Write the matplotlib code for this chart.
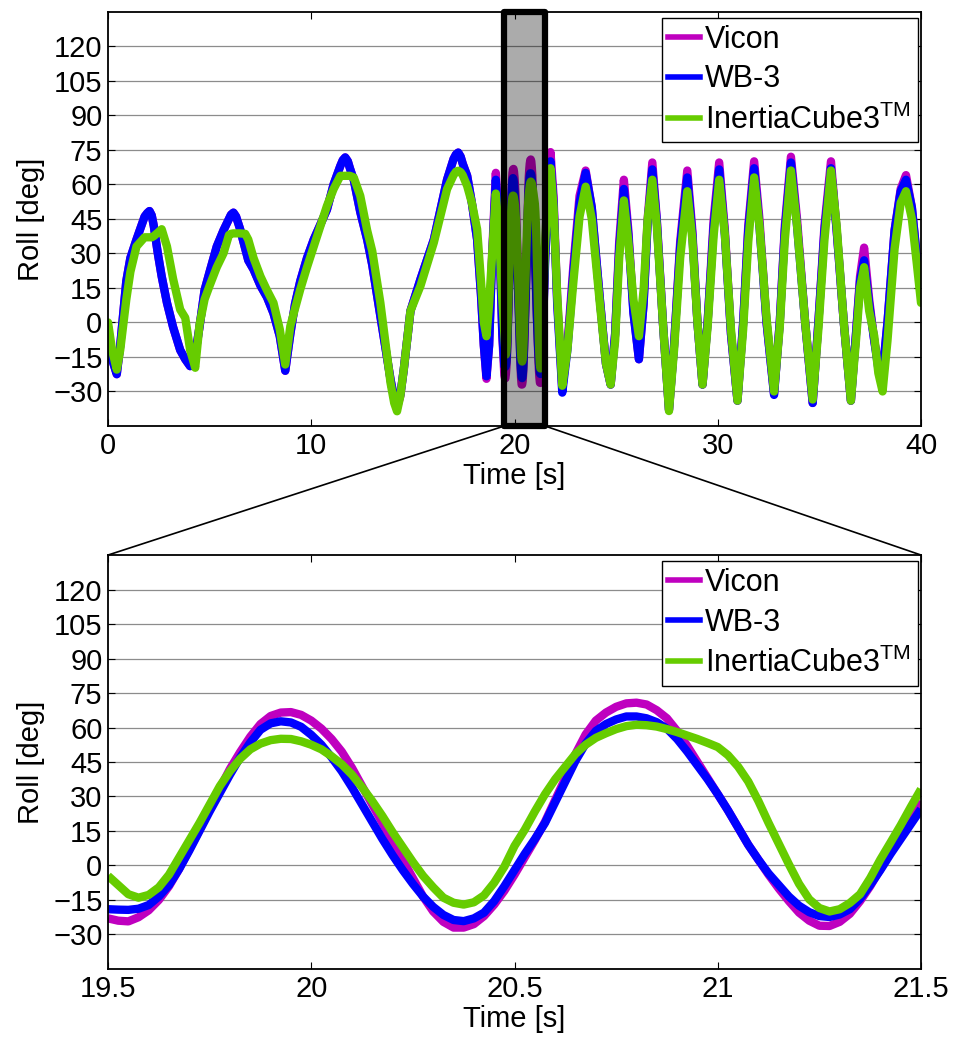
import matplotlib as mpl
mpl.use('Agg')
import matplotlib.pyplot as plt
from matplotlib.patches import Rectangle, ConnectionPatch
from matplotlib.lines import Line2D
import numpy as np

mpl.rcParams['font.family'] = ['Liberation Sans', 'DejaVu Sans']
mpl.rcParams['mathtext.fontset'] = 'custom'
mpl.rcParams['mathtext.rm'] = 'Liberation Sans'
mpl.rcParams['mathtext.it'] = 'Liberation Sans'

# -------------------------
# Data
# -------------------------

# zoomed window 19.5 - 21.5 s (samples every 25 ms)
t_zoom = [19.5, 19.525, 19.55, 19.575, 19.6, 19.625, 19.65, 19.675, 19.7, 19.725,
          19.75, 19.775, 19.8, 19.825, 19.85, 19.875, 19.9, 19.925, 19.95, 19.975,
          20.0, 20.025, 20.05, 20.075, 20.1, 20.125, 20.15, 20.175, 20.2, 20.225,
          20.25, 20.275, 20.3, 20.325, 20.35, 20.375, 20.4, 20.425, 20.45, 20.475,
          20.5, 20.525, 20.55, 20.575, 20.6, 20.625, 20.65, 20.675, 20.7, 20.725,
          20.75, 20.775, 20.8, 20.825, 20.85, 20.875, 20.9, 20.925, 20.95, 20.975,
          21.0, 21.025, 21.05, 21.075, 21.1, 21.125, 21.15, 21.175, 21.2, 21.225,
          21.25, 21.275, 21.3, 21.325, 21.35, 21.375, 21.4, 21.425, 21.45, 21.475,
          21.5]
vicon_zoom = [-23, -24, -24.3, -22.5, -19.5, -15, -9, -1.5, 7, 15.5,
              25, 33.5, 42, 49.3, 56, 61.5, 65, 66.5, 66.7, 65.5,
              63, 59.5, 55, 49.5, 42.5, 34.5, 26.5, 18.5, 10.5, 2.5,
              -5.5, -13.5, -20, -24.5, -27, -27, -25.5, -22, -17, -11,
              -4, 3.5, 11, 19, 28.5, 38, 48.5, 57, 63, 66.5,
              69, 70.5, 70.8, 70, 67.5, 64, 58.5, 52, 45, 38,
              31, 24, 16.5, 9, 2.5, -4, -10, -15.5, -20.5, -24,
              -26.2, -26.3, -24.5, -21, -15.5, -9, -1.5, 6, 13, 20.5,
              28]
wb3_zoom = [-19, -19.2, -19.3, -18.8, -17.2, -13.5, -8.5, -1.5, 6.5, 15,
            23.5, 31.5, 39.5, 47, 53.5, 59, 61.8, 62.7, 62.2, 60.3,
            56.8, 52.5, 47, 41, 34, 26.5, 19, 11.5, 4.5, -2,
            -8, -13.5, -18, -21.5, -23.7, -24.2, -23, -20.5, -15.5, -9,
            -2, 5, 11.5, 18.5, 27.5, 36.5, 45.5, 53, 58.5, 61.5,
            63.5, 64.8, 64.8, 64, 62.3, 59.5, 55, 49.5, 43.5, 37.5,
            31, 24, 16.5, 9, 2.5, -3.5, -8.5, -13.5, -17.5, -20.3,
            -22, -22.4, -21.3, -19, -14.5, -8.5, -2, 5, 11.5, 18,
            24.5]
ic3_zoom = [-4.5, -8.5, -12.5, -14, -12.8, -9.5, -4, 3.5, 11, 18.5,
            26.5, 34.5, 41, 46.4, 50.5, 53, 54.5, 55.1, 55, 54,
            52.5, 50.5, 47.5, 44, 39.5, 34, 28, 21.5, 14.5, 8,
            1.5, -4.5, -9.5, -14, -16.2, -17, -16, -13, -7.5, -0.5,
            8.5, 15.5, 23.5, 31, 37.5, 43, 48.5, 52.5, 55.5, 57.5,
            59.3, 60.6, 61.2, 61, 60.4, 59.3, 58, 56.5, 55, 53.3,
            51.5, 48, 43, 36.5, 28, 18.5, 9.5, 0.5, -8, -14.7,
            -18.5, -20, -19, -16.3, -12.5, -5.5, 2.6, 10, 17.5, 25.5,
            33.2]

# full record, before the zoom window (0 - 19.5 s)
t_a = [0.0, 0.2, 0.43, 0.6, 0.9, 1.1, 1.4, 1.8, 1.93, 2.04,
       2.15, 2.25, 2.45, 2.64, 2.9, 3.2, 3.55, 3.8, 4.04, 4.29,
       4.5, 4.75, 5.0, 5.35, 5.68, 5.95, 6.05, 6.17, 6.3, 6.5,
       6.75, 6.9, 7.16, 7.5, 7.82, 8.14, 8.45, 8.72, 8.97, 9.2,
       9.46, 9.79, 10.12, 10.77, 11.1, 11.43, 11.55, 11.67, 11.8, 11.9,
       12.09, 12.41, 12.75, 13.0, 13.4, 13.9, 14.08, 14.22, 14.38, 14.55,
       14.88, 15.37, 16.03, 16.68, 17.0, 17.12, 17.23, 17.35, 17.45, 17.67,
       17.9, 18.16, 18.35, 18.49, 18.62, 18.75, 18.9, 19.08, 19.25, 19.4]
vicon_a = [-2, -16, -22.5, -10, 18, 28, 36, 46, 47.5, 48.4,
           46.5, 42, 30, 20, 8.5, -2, -12, -16, -19, -14,
           -2, 14, 22, 33, 40, 45, 46.8, 47.7, 46, 40.5,
           32, 27, 23, 16, 11, 4, -6, -21, -5, 8,
           18, 28, 36, 49, 60, 68, 70.5, 71.7, 70, 67,
           62, 48, 36, 25, 2.7, -24.8, -33, -37, -32, -20.5,
           5, 18.7, 36, 62, 71, 73, 73.8, 72, 69, 63.7,
           52, 36, 12, -10, -24.5, -10, 30, 65, 40, -6]
wb3_a = [-2, -16, -22.5, -10, 18, 28, 36, 46, 47.5, 48.4,
         46.5, 42, 30, 20, 8.5, -2, -12, -16, -19, -14,
         -2, 14, 22, 33, 40, 45, 46.8, 47.7, 46, 40.5,
         32, 27, 23, 16, 11, 4, -6, -21, -5, 8,
         18, 28, 36, 49, 60, 68, 70.5, 71.7, 70, 67,
         62, 48, 36, 25, 2.7, -24.8, -33, -36.4, -31.5, -20.5,
         5, 18.7, 36, 62, 71, 73, 73.8, 72, 69, 63.7,
         52, 36, 12, -10, -23.4, -10, 28, 62, 38, -5]
ic3_a = [0, -12, -20.5, -12, 10, 22, 33, 37, 37, 37,
         37, 37.5, 39, 40.5, 33, 19, 5.6, 2, -12, -19.7,
         -1, 10, 16, 24, 30, 38, 38.5, 38.7, 38.7, 38.7,
         38.5, 36, 28, 20, 14, 8.5, -3, -18.3, -1.6, 6,
         14.4, 24, 33, 50.6, 58, 63.7, 63.7, 63.7, 63.7, 63.7,
         63, 55, 40, 31, 8.5, -26.3, -35, -38.6, -32, -20.5,
         5, 15.8, 34.7, 57.9, 64, 65.5, 65.9, 65.3, 64, 59.3,
         52, 40.5, 18, 0, -6, 8, 30, 56, 36, 10]

# full record, after the zoom window (21.5 - 40 s)
t_c = [21.62, 21.77, 21.92, 22.1, 22.35, 22.6, 22.9, 23.2, 23.5, 23.8,
       24.2, 24.5, 24.73, 24.95, 25.15, 25.38, 25.6, 25.85, 26.12, 26.35,
       26.55, 26.78, 27.0, 27.3, 27.6, 27.85, 28.15, 28.5, 28.75, 29.0,
       29.25, 29.5, 29.8, 30.07, 30.35, 30.65, 30.97, 31.25, 31.5, 31.79,
       32.05, 32.4, 32.77, 33.05, 33.3, 33.6, 33.9, 34.3, 34.67, 34.95,
       35.25, 35.57, 35.85, 36.2, 36.55, 36.8, 37.0, 37.2, 37.45, 37.7,
       37.9, 38.11, 38.35, 38.7, 39.0, 39.26, 39.55, 39.8, 40.0]
vicon_c = [55, 74, 55, 10, -29, -10, 25, 55, 66, 50,
           10, -18, -27, -5, 35, 62, 40, 5, -16, 8,
           45, 69.5, 45, 0, -38, -10, 35, 66, 40, 0,
           -27, 0, 45, 69.5, 40, -5, -34, 0, 42, 70,
           45, 0, -31, 0, 42, 72, 45, 0, -35, 0,
           42, 70, 40, 0, -34, -5, 20, 32.5, 10, -8,
           -18, -22, 0, 40, 58, 64, 50, 28, 15]
wb3_c = [50, 70, 52, 8, -30.5, -12, 22, 52, 65, 50,
         10, -18, -27, -5, 32, 58, 38, 4, -16, 8,
         43, 66.5, 44, 0, -38, -10, 33, 63, 38, 0,
         -27, 0, 42, 66.5, 38, -5, -34, 0, 40, 67,
         42, 0, -31.5, 0, 40, 69.5, 42, 0, -35, 0,
         40, 67, 40, 0, -34, -5, 18, 27, 8, -8,
         -20, -22, 0, 40, 57, 62, 50, 28, 15]
ic3_c = [55, 67, 50, 12, -27.5, -12, 18, 46, 59, 45,
         8, -18, -27, -8, 28, 53, 35, 10, -6, 14,
         45, 62, 42, 0, -38.5, -12, 28, 57, 36, 0,
         -27, -2, 38, 62, 38, -3, -34, -3, 35, 63,
         42, 2, -30, -2, 36, 66, 42, 0, -33.5, -3,
         36, 66, 42, 0, -34, -8, 15, 24, 5, -6,
         -22, -30, -8, 32, 52, 57, 45, 25, 8.5]

series_names = ['Vicon', 'WB-3', 'InertiaCube3$^{\\mathrm{TM}}$']
series_colors = ['#BF00BF', '#0000FF', '#66CC00']

y_ticks = [-30, -15, 0, 15, 30, 45, 60, 75, 90, 105, 120]
x_ticks_full = [0, 10, 20, 30, 40]
x_ticks_zoom = [19.5, 20, 20.5, 21, 21.5]
x_ticklabels_zoom = ['19.5', '20', '20.5', '21', '21.5']


def style_axes(ax):
    ax.set_ylim(-45, 135)
    ax.set_yticks(y_ticks)
    ax.tick_params(direction='in', top=True, right=True, length=5,
                   width=0.8, labelsize=21, pad=4)
    ax.yaxis.grid(True, color='0.55', lw=0.9)
    ax.set_axisbelow(True)
    for sp in ax.spines.values():
        sp.set_linewidth(1.3)
    ax.set_ylabel('Roll [deg]', fontsize=21, labelpad=6)


def add_legend(ax):
    handles = [Line2D([], [], color=c, lw=4) for c in series_colors]
    leg = ax.legend(handles, series_names, loc='upper right', fontsize=22,
                    bbox_to_anchor=(0.996, 0.985), borderaxespad=0,
                    handlelength=1.05, handletextpad=0.15, labelspacing=0.32,
                    borderpad=0.22, fancybox=False, framealpha=1,
                    edgecolor='k')
    leg.get_frame().set_linewidth(1.0)


# *******************
# Main function
# *******************
def main():
    fig = plt.figure(figsize=(9.56, 10.39), dpi=100)
    ax1 = fig.add_axes([0.113, 0.590, 0.8504, 0.3987])
    ax2 = fig.add_axes([0.113, 0.0674, 0.8504, 0.3984])

    t_full = t_a + t_zoom + t_c
    full = [vicon_a + vicon_zoom + vicon_c,
            wb3_a + wb3_zoom + wb3_c,
            ic3_a + ic3_zoom + ic3_c]
    zoom = [vicon_zoom, wb3_zoom, ic3_zoom]

    lw = 6.0
    for y, c in zip(full, series_colors):
        ax1.plot(t_full, y, color=c, lw=lw, solid_joinstyle='round',
                 solid_capstyle='round')
    for y, c in zip(zoom, series_colors):
        ax2.plot(t_zoom, y, color=c, lw=lw, solid_joinstyle='round',
                 solid_capstyle='butt')

    # top panel
    ax1.set_xlim(0, 40)
    ax1.set_xticks(x_ticks_full)
    style_axes(ax1)
    ax1.set_xlabel('Time [s]', fontsize=21, labelpad=2)
    add_legend(ax1)

    # shaded window
    rect = Rectangle((t_zoom[0], -45), t_zoom[-1] - t_zoom[0], 180,
                     facecolor=(0, 0, 0, 0.33), edgecolor='k', lw=4.5,
                     joinstyle='round', clip_on=False, zorder=5)
    ax1.add_patch(rect)

    # bottom panel
    ax2.set_xlim(t_zoom[0], t_zoom[-1])
    ax2.set_xticks(x_ticks_zoom)
    ax2.set_xticklabels(x_ticklabels_zoom)
    style_axes(ax2)
    ax2.set_xlabel('Time [s]', fontsize=21, labelpad=2)
    add_legend(ax2)

    # zoom connector lines
    for xv in (t_zoom[0], t_zoom[-1]):
        con = ConnectionPatch(xyA=(xv, -45), coordsA=ax1.transData,
                              xyB=(xv, 135), coordsB=ax2.transData,
                              color='k', lw=1.2)
        fig.add_artist(con)

    fig.savefig('out.png', dpi=100)


if __name__ == "__main__":
    main()
